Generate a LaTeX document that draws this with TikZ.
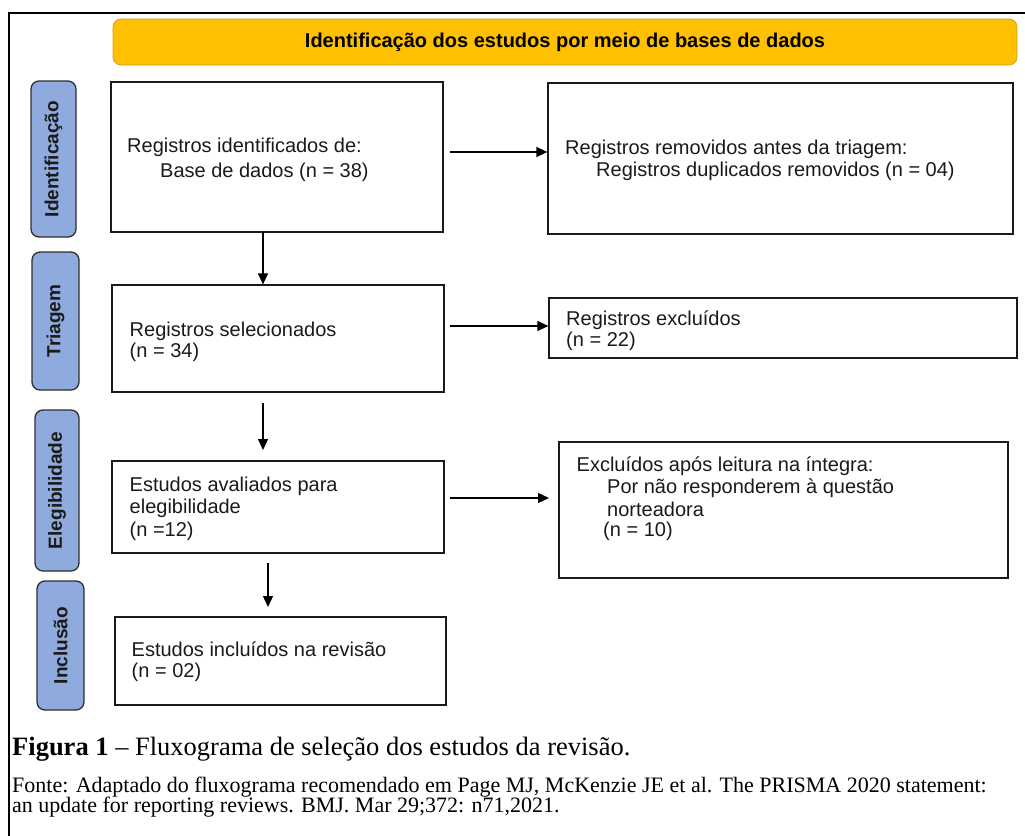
\documentclass[tikz,border=0pt]{standalone}
\usepackage{fontspec}
\setmainfont{Liberation Serif}
\newfontfamily\arialf{Liberation Sans}
\usetikzlibrary{arrows.meta,calc}
\definecolor{bannerfill}{HTML}{FFC000}
\definecolor{bannerdraw}{HTML}{D4A017}
\definecolor{sidefill}{HTML}{8FAADC}
\definecolor{sidedraw}{HTML}{2E2E2E}
\definecolor{ink}{HTML}{1A1A1A}
\begin{document}
\begin{tikzpicture}[x=1pt,y=-1pt,
  box/.style={draw=ink,line width=1.2pt,inner sep=0pt,rectangle},
  side/.style={draw=sidedraw,fill=sidefill,rounded corners=8pt,line width=1.3pt,inner sep=0pt,rotate=90,
    font=\arialf\bfseries\fontsize{19}{22}\selectfont,text=ink},
  banner/.style={draw=bannerdraw,fill=bannerfill,rounded corners=8pt,line width=0.8pt,inner sep=0pt,
    font=\arialf\bfseries\fontsize{20}{23}\selectfont,text=black},
  txt/.style={anchor=base west,inner sep=0pt,font=\arialf\fontsize{20}{23}\selectfont,text=ink},
  captxt/.style={anchor=base west,inner sep=0pt,font=\fontsize{26.5}{30}\selectfont,text=black},
  srctxt/.style={anchor=base west,inner sep=0pt,font=\fontsize{22}{21}\selectfont,text=black},
  arr/.style={draw=black,line width=1.3pt,-{Triangle[length=11pt,width=10pt]}}]

\useasboundingbox (0,0) rectangle (1025,835);

% outer frame
\draw[line width=1.5pt,draw=black] (9,845) -- (9,13) -- (1035,13);

% banner
\node[banner,minimum width=904pt,minimum height=46pt] (ban) at (565,42) {Identificação dos estudos por meio de bases de dados};

% side labels
\node[side,minimum width=156pt,minimum height=45pt] (s1) at (53.5,159) {Identificação};
\node[side,minimum width=138pt,minimum height=47pt] (s2) at (55.5,321) {Triagem};
\node[side,minimum width=161pt,minimum height=44pt] (s3) at (57,490.5) {Elegibilidade};
\node[side,minimum width=129pt,minimum height=47pt] (s4) at (60.5,645.5) {Inclusão};

% boxes
\node[box,minimum width=332pt,minimum height=150pt] (b1) at (277,157) {};
\node[box,minimum width=465pt,minimum height=151pt] (b2) at (780.5,158.5) {};
\node[box,minimum width=332pt,minimum height=107pt] (b3) at (278,338.5) {};
\node[box,minimum width=468pt,minimum height=60pt] (b4) at (783,328) {};
\node[box,minimum width=332pt,minimum height=92pt] (b5) at (278,507) {};
\node[box,minimum width=449pt,minimum height=136pt] (b6) at (783.5,510) {};
\node[box,minimum width=331pt,minimum height=88pt] (b7) at (280.5,661) {};

% box texts
\node[txt] (t1a) at (127,152.5) {Registros identificados de:};
\node[txt] (t1b) at (160,177) {Base de dados (n = 38)};
\node[txt] (t2a) at (565,154) {Registros removidos antes da triagem:};
\node[txt] (t2b) at (596,176.7) {Registros duplicados removidos (n = 04)};
\node[txt] (t3a) at (129.5,336) {Registros selecionados};
\node[txt] (t3b) at (129.5,357) {(n = 34)};
\node[txt] (t4a) at (566,325) {Registros excluídos};
\node[txt] (t4b) at (566,346.5) {(n = 22)};
\node[txt] (t5a) at (129.5,491.5) {Estudos avaliados para};
\node[txt] (t5b) at (129.5,513.3) {elegibilidade};
\node[txt] (t5c) at (129.5,536) {(n =12)};
\node[txt] (t6a) at (576.5,471.7) {Excluídos após leitura na íntegra:};
\node[txt] (t6b) at (607,493.3) {Por não responderem à questão};
\node[txt] (t6c) at (607,516) {norteadora};
\node[txt] (t6d) at (603,536.7) {(n = 10)};
\node[txt] (t7a) at (131.5,656.7) {Estudos incluídos na revisão};
\node[txt] (t7b) at (131.5,677) {(n = 02)};

% horizontal arrows
\coordinate (a1s) at (450,152);
\draw[arr] (a1s) -- (a1s -| b2.west);
\coordinate (a2s) at (450,326);
\draw[arr] (a2s) -- (a2s -| b4.west);
\coordinate (a3s) at (450,498);
\coordinate (a3e) at (549,498);
\draw[arr] (a3s) -- (a3e);

% vertical arrows
\coordinate (v1s) at (263,232);
\draw[arr] (v1s) -- (v1s |- b3.north);
\coordinate (v2s) at (263,403);
\coordinate (v2e) at (263,450);
\draw[arr] (v2s) -- (v2e);
\coordinate (v3s) at (268,563);
\coordinate (v3e) at (268,607);
\draw[arr] (v3s) -- (v3e);

% caption and source
\node[captxt] (cap) at (12,755) {\textbf{Figura 1} – Fluxograma de seleção dos estudos da revisão.};
\node[srctxt] (src1) at (12,792) {Fonte: Adaptado do fluxograma recomendado em Page MJ, McKenzie JE et al. The PRISMA 2020 statement:};
\node[srctxt] (src2) at (12,812.5) {an update for reporting reviews. BMJ. Mar 29;372: n71,2021.};
\end{tikzpicture}
\end{document}
